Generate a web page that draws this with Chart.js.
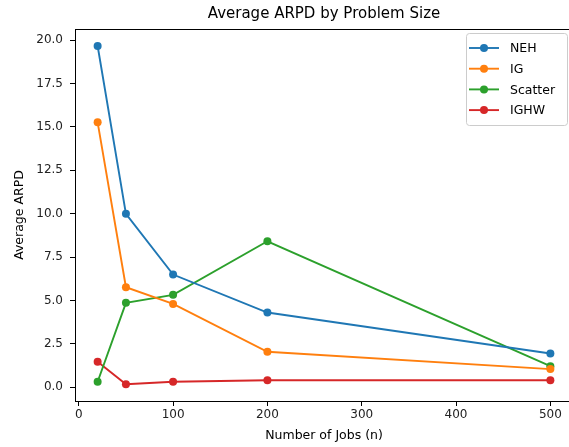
<!DOCTYPE html>
<html>
<head>
<meta charset="utf-8">
<script src="https://cdn.jsdelivr.net/npm/chart.js@4/dist/chart.umd.min.js"></script>
<style>
  html, body { margin: 0; padding: 0; background: #fff; }
  #wrap { width: 569px; height: 447px; position: relative; overflow: hidden; }
</style>
</head>
<body>
<div id="wrap"><canvas id="myChart" width="577" height="447"></canvas></div>
<script>
// du lieu doc tu hinh
let jobs = [20, 50, 100, 200, 500];
let nehValues = [19.67, 9.99, 6.49, 4.30, 1.94];
let igValues = [15.27, 5.76, 4.80, 2.04, 1.04];
let scatterValues = [0.31, 4.86, 5.32, 8.41, 1.21];
let ighwValues = [1.46, 0.17, 0.31, 0.40, 0.40];
let xTicks = [0, 100, 200, 300, 400, 500];
let yTicks = [0, 2.5, 5, 7.5, 10, 12.5, 15, 17.5, 20];

const FONT = "'DejaVu Sans', sans-serif";

function toPoints(values) {
  return jobs.map((x, i) => ({ x: x, y: values[i] }));
}

function makeSet(label, color, values) {
  return {
    label: label,
    data: toPoints(values),
    borderColor: color,
    backgroundColor: color,
    borderWidth: 1.9,
    pointRadius: 4,
    pointBorderWidth: 0,
    pointHoverRadius: 4,
    tension: 0,
  };
}

// ve title, khung va legend
const extras = {
  id: "extras",
  afterDraw(chart) {
    const ctx = chart.ctx;
    const a = chart.chartArea;
    ctx.save();
    ctx.strokeStyle = "#000";
    ctx.lineWidth = 1;
    ctx.strokeRect(Math.round(a.left) + 0.5, Math.round(a.top) + 0.5,
      Math.round(a.right - a.left) - 1, Math.round(a.bottom - a.top));

    ctx.fillStyle = "#000";
    ctx.font = "15px " + FONT;
    ctx.textAlign = "center";
    ctx.textBaseline = "middle";
    ctx.fillText("Average ARPD by Problem Size", (a.left + a.right) / 2, 14);

    // legend
    const bx = 466, by = 33, bw = 101, bh = 92;
    ctx.fillStyle = "rgba(255,255,255,0.8)";
    ctx.strokeStyle = "#cccccc";
    ctx.beginPath();
    ctx.roundRect(bx + 0.5, by + 0.5, bw, bh, 3);
    ctx.fill();
    ctx.stroke();
    ctx.font = "12.5px " + FONT;
    ctx.textAlign = "left";
    chart.data.datasets.forEach((ds, i) => {
      const y = 48 + i * 20.7;
      ctx.strokeStyle = ds.borderColor;
      ctx.lineWidth = 1.9;
      ctx.beginPath();
      ctx.moveTo(469, y);
      ctx.lineTo(499, y);
      ctx.stroke();
      ctx.fillStyle = ds.borderColor;
      ctx.beginPath();
      ctx.arc(484, y, 4, 0, Math.PI * 2);
      ctx.fill();
      ctx.fillStyle = "#000";
      ctx.fillText(ds.label, 510, y + 1);
    });
    ctx.restore();
  },
};

let myChart = new Chart("myChart", {
  type: "line",
  data: {
    datasets: [
      makeSet("NEH", "#1f77b4", nehValues),
      makeSet("IG", "#ff7f0e", igValues),
      makeSet("Scatter", "#2ca02c", scatterValues),
      makeSet("IGHW", "#d62728", ighwValues),
    ],
  },
  options: {
    responsive: false,
    animation: false,
    layout: { padding: { top: 29, right: 3, left: 0, bottom: 0 } },
    plugins: {
      legend: { display: false },
      title: { display: false },
      tooltip: { enabled: false },
    },
    scales: {
      x: {
        type: "linear",
        min: -4,
        max: 524,
        afterBuildTicks: (s) => { s.ticks = xTicks.map((v) => ({ value: v })); },
        afterFit: (s) => { s.height = 46; },
        grid: { display: true, drawOnChartArea: false, drawTicks: true, tickLength: 5, color: "#000" },
        border: { display: true, color: "#000" },
        ticks: { color: "#222", font: { family: FONT, size: 12 }, padding: 2, maxRotation: 0 },
        title: { display: true, text: "Number of Jobs (n)", color: "#000", font: { family: FONT, size: 12.5 }, padding: { top: 4 } },
      },
      y: {
        min: -0.8,
        max: 20.65,
        afterBuildTicks: (s) => { s.ticks = yTicks.map((v) => ({ value: v })); },
        afterFit: (s) => { s.width = 75; },
        grid: { display: true, drawOnChartArea: false, drawTicks: true, tickLength: 5, color: "#000" },
        border: { display: true, color: "#000" },
        ticks: { color: "#222", font: { family: FONT, size: 12 }, padding: 7, callback: (v) => v.toFixed(1) },
        title: { display: true, text: "Average ARPD", color: "#000", font: { family: FONT, size: 12.5 }, padding: { top: 12, bottom: 4 } },
      },
    },
  },
  plugins: [extras],
});
</script>
</body>
</html>
